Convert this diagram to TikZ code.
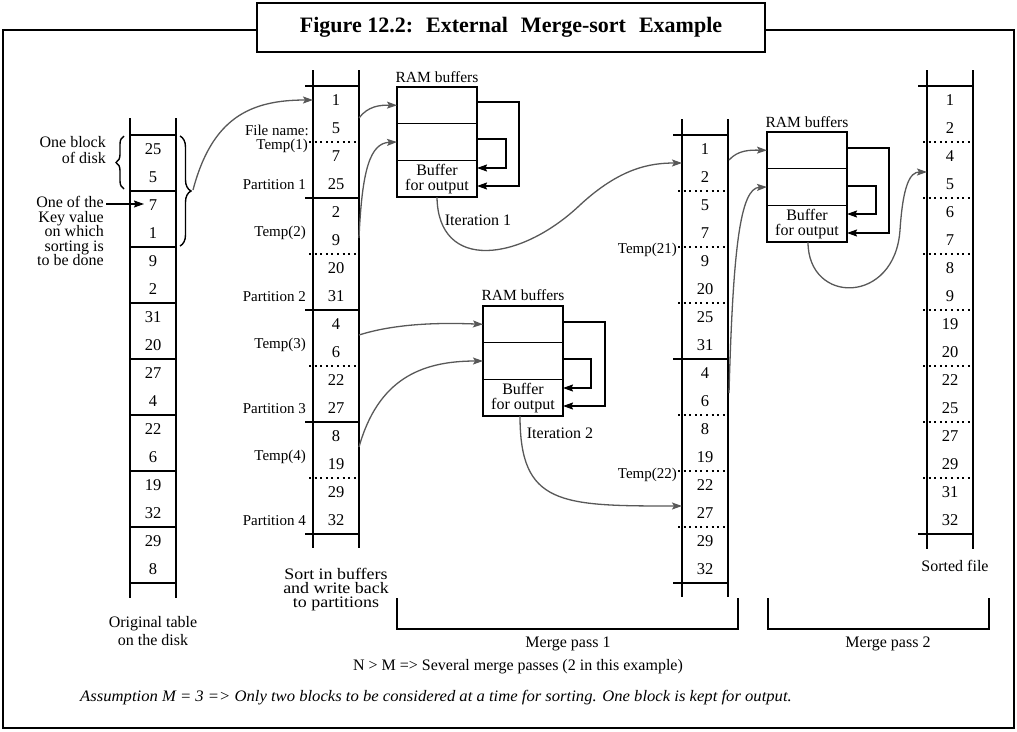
\documentclass[tikz,border=0pt]{standalone}
\usepackage{fontspec}
\usepackage{graphicx}
\setmainfont{Liberation Serif}
\usetikzlibrary{arrows.meta,decorations.pathreplacing}
\definecolor{arrgray}{RGB}{88,88,88}
\tikzset{
  num/.style={font=\fontsize{16.5}{16.5}\selectfont, inner sep=0pt, anchor=base},
  lbl/.style={font=\fontsize{15}{15}\selectfont, inner sep=0pt, anchor=base east},
  ctxt/.style={font=\fontsize{16}{15.5}\selectfont, inner sep=0pt, align=center},
  col/.style={line width=1.4pt},
  dots/.style={line width=1.3pt, dash pattern=on 2pt off 3.6pt},
  flow/.style={draw=arrgray, line width=1.3pt, -{Stealth[length=10pt,width=7pt,inset=2pt]}},
  back/.style={draw=black, line width=1.4pt, -{Stealth[length=10pt,width=7pt,inset=1.5pt]}},
  cell/.style={draw, line width=1.5pt, minimum width=80pt, minimum height=36.7pt, inner sep=0pt, outer sep=0pt, font=\fontsize{16}{15}\selectfont, align=center},
  bracebox/.style={line width=1.4pt, decorate},
}
\begin{document}
\begin{tikzpicture}[x=1pt,y=-1pt]
\useasboundingbox (0,0) rectangle (1017,731);
% frame and title
\draw[line width=2pt] (3,30) rectangle (1014,728);
\node[draw, line width=2.5pt, fill=white, minimum width=508pt, minimum height=49pt, inner sep=0pt,
      font=\fontsize{22}{22}\selectfont\bfseries] (title) at (511,27.5)
      {Figure 12.2:\hspace{13pt}External\hspace{13pt}Merge-sort\hspace{13pt}Example};

% ---------- column 1 : original table
\draw[col] (130,118) -- (130,598);
\draw[col] (176,118) -- (176,598);
\foreach \y in {135,191,247,303,359,415,471,527,583} \draw[col] (130,\y) -- (176,\y);
\foreach \v [count=\i from 0] in {25,5,7,1,9,2,31,20,27,4,22,6,19,32,29,8}
  \node[num] (ca\i) at (153,{154.5+28*\i}) {\v};
\node[ctxt, font=\fontsize{16}{17.5}\selectfont] (orig) at (153,631) {Original table\\on the disk};

% left annotations
\node[ctxt, align=right, anchor=east] (oneblock) at (106,150) {One block\\of disk};
\draw[bracebox, decoration={brace, amplitude=8pt}] (124,189) -- (124,136);
\node[ctxt, font=\fontsize{16}{14.6}\selectfont, align=right, anchor=north east] (keyval) at (104,196) {One of the\\Key value\\on which\\sorting is\\to be done};
\coordinate (keyarr) at (106,204);
\draw[line width=1.3pt, -{Stealth[length=10pt,width=7pt,inset=1.5pt]}] (keyarr) -- (144,204);
\draw[bracebox, decoration={brace, amplitude=11pt}] (180,136) -- (180,246);
\coordinate (bracetip) at (193,190);

% ---------- column 2
\draw[col] (313,70) -- (313,548);
\draw[col] (359,70) -- (359,548);
\foreach \y in {86,198,310,422,534} \draw[col] (305,\y) -- (359,\y);
\foreach \y in {142,254,366,478} \draw[dots] (309,\y) -- (359,\y);
\foreach \v [count=\i from 0] in {1,5,7,25,2,9,20,31,4,6,22,27,8,19,29,32}
  \node[num] (cb\i) at (336,{105.5+28*\i}) {\v};
\node[lbl] (fname) at (309,135) {File name:};
\node[lbl] (t1) at (308,149) {Temp(1)};
\node[lbl] (p1) at (306,189) {Partition 1};
\node[lbl] (t2) at (306,236) {Temp(2)};
\node[lbl] (p2) at (306,301) {Partition 2};
\node[lbl] (t3) at (306,348) {Temp(3)};
\node[lbl] (p3) at (306,413) {Partition 3};
\node[lbl] (t4) at (306,460) {Temp(4)};
\node[lbl] (p4) at (306,525) {Partition 4};
\node[ctxt] (sortbuf) at (336,590) {\scalebox{1.12}[1]{\begin{tabular}{@{}c@{}}Sort in buffers\\[-1.5pt]and write back\\[-1.5pt]to partitions\end{tabular}}};

% ---------- column 3
\draw[col] (682,119) -- (682,597);
\draw[col] (728,119) -- (728,597);
\foreach \y in {135,359,583} \draw[col] (673,\y) -- (728,\y);
\foreach \y in {191,247,303,415,471,527} \draw[dots] (678,\y) -- (728,\y);
\foreach \v [count=\i from 0] in {1,2,5,7,9,20,25,31,4,6,8,19,22,27,29,32}
  \node[num] (cc\i) at (705,{154.5+28*\i}) {\v};
\node[lbl] (t21) at (677,253) {Temp(21)};
\node[lbl] (t22) at (677,478) {Temp(22)};

% ---------- column 4 : sorted file
\draw[col] (927,70) -- (927,549);
\draw[col] (973,70) -- (973,549);
\foreach \y in {86,534} \draw[col] (918,\y) -- (973,\y);
\foreach \y in {142,198,254,310,366,422,478} \draw[dots] (923,\y) -- (973,\y);
\foreach \v [count=\i from 0] in {1,2,4,5,6,7,8,9,19,20,22,25,27,29,31,32}
  \node[num] (cd\i) at (950,{105.5+28*\i}) {\v};
\node[ctxt] (sorted) at (955,566) {Sorted file};

% ---------- RAM buffers 1
\node[cell] (b1a) at (437,105.3) {};
\node[cell] (b1b) at (437,142) {};
\node[cell] (b1c) at (437,178.7) {Buffer\\for output};
\node[ctxt, font=\fontsize{15.5}{15}\selectfont, anchor=base] (r1) at (437,82) {RAM buffers};
\draw[back] (b1a.east |- 0,102) -- (519,102) -- (519,186) -- (b1c.east |- 0,186);
\draw[back] (b1b.east |- 0,139) -- (506,139) -- (506,168) -- (b1c.east |- 0,168);
\node[ctxt] (it1) at (478,220) {Iteration 1};

% ---------- RAM buffers 2
\node[cell] (b2a) at (523,324.3) {};
\node[cell] (b2b) at (523,361) {};
\node[cell] (b2c) at (523,397.7) {Buffer\\for output};
\node[ctxt, font=\fontsize{15.5}{15}\selectfont, anchor=base] (r2) at (523,300) {RAM buffers};
\draw[back] (b2a.east |- 0,322) -- (605,322) -- (605,406) -- (b2c.east |- 0,406);
\draw[back] (b2b.east |- 0,359) -- (591,359) -- (591,388) -- (b2c.east |- 0,388);
\node[ctxt] (it2) at (560,433) {Iteration 2};

% ---------- RAM buffers 3
\node[cell] (b3a) at (807,150.3) {};
\node[cell] (b3b) at (807,187) {};
\node[cell] (b3c) at (807,223.7) {Buffer\\for output};
\node[ctxt, font=\fontsize{15.5}{15}\selectfont, anchor=base] (r3) at (807,127) {RAM buffers};
\draw[back] (b3a.east |- 0,148) -- (889,148) -- (889,233) -- (b3c.east |- 0,233);
\draw[back] (b3b.east |- 0,186) -- (876,186) -- (876,214) -- (b3c.east |- 0,214);

% ---------- gray flow arrows
\coordinate (c2top) at (313,100);
\draw[flow] (bracetip) .. controls (212,118) and (250,100) .. (c2top);
\draw[flow] (359,118) .. controls (368,106) and (380,105) .. (b1a.west);
\draw[flow] (359,238) .. controls (362,170) and (370,143) .. (b1b.west);
\coordinate (c3in1) at (682,163);
\draw[flow] (b1c.south) .. controls (438,272) and (520,262) .. (580,205) .. controls (620,168) and (650,163) .. (c3in1);
\draw[flow] (359,335) .. controls (400,322) and (450,323) .. (b2a.west);
\draw[flow] (359,447) .. controls (378,380) and (420,361) .. (b2b.west);
\coordinate (c3in2) at (682,506);
\draw[flow] (520,416) .. controls (520,505) and (560,506) .. (c3in2);
\draw[flow] (729,160) .. controls (738,150) and (750,150) .. (b3a.west);
\draw[flow] (729,393) .. controls (733,250) and (740,188) .. (b3b.west);
\coordinate (c4in) at (927,172);
\draw[flow] (808,242) .. controls (808,305) and (895,305) .. (900,230) .. controls (903,185) and (910,172) .. (c4in);

% ---------- merge pass brackets
\draw[col] (397,598) -- (397,629) -- (738,629) -- (738,598);
\draw[col] (768,598) -- (768,629) -- (989,629) -- (989,598);
\node[ctxt] (mp1) at (568,644) {Merge pass 1};
\node[ctxt] (mp2) at (888,644) {Merge pass 2};
\node[ctxt] (nm) at (518,667) {N > M => Several merge passes (2 in this example)};
\node[ctxt, font=\fontsize{16}{16}\selectfont\itshape] (assume) at (436,698) {\scalebox{1.04}[1]{Assumption M = 3 => Only two blocks to be considered at a time for sorting. One block is kept for output.}};
\end{tikzpicture}
\end{document}
